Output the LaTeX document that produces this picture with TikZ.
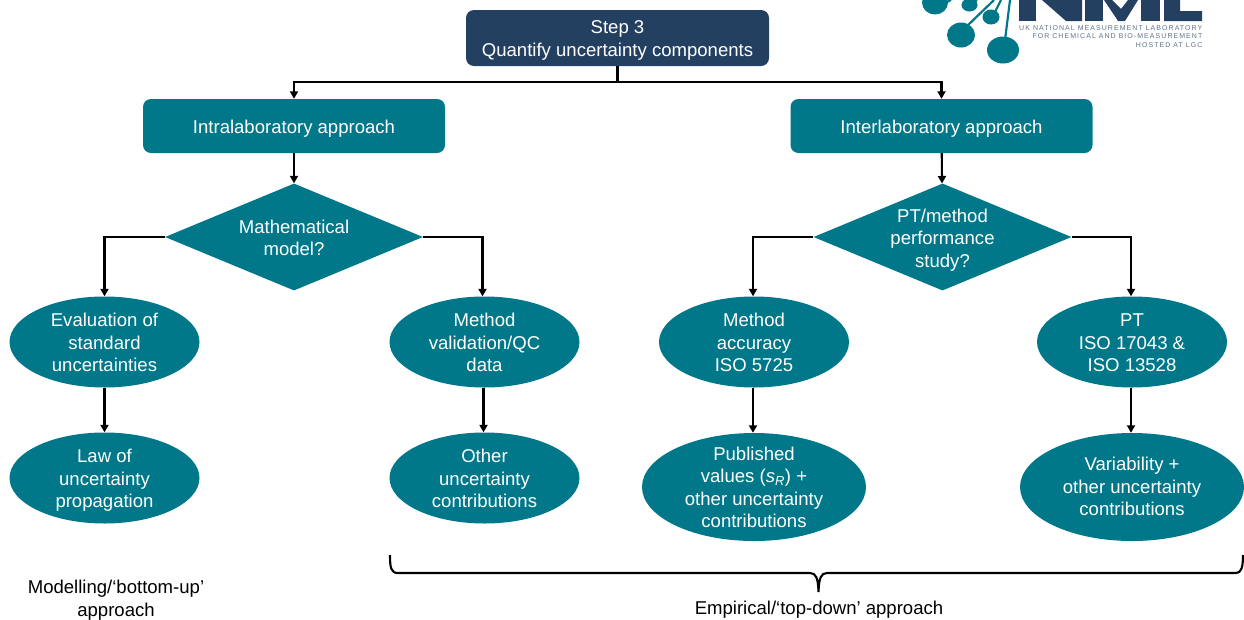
\documentclass[tikz,border=0pt]{standalone}
\usepackage{fontspec}
\setmainfont{Liberation Sans}
\usetikzlibrary{shapes.geometric,arrows.meta,calc}
\definecolor{teal1}{HTML}{00788A}
\definecolor{navy1}{HTML}{244061}
\definecolor{logogrey}{HTML}{5F7488}
\newcommand{\tl}[2][2.5pt]{\raisebox{-#1}[\height][\depth]{\begin{tabular}{@{}c@{}}#2\end{tabular}}}
\tikzset{
  x=1pt,y=-1pt,
  txt/.style={text=white,font=\fontsize{18.55}{22.5}\selectfont,inner sep=0pt},
  stepbox/.style={txt,fill=navy1,rounded corners=8pt,minimum width=303pt,minimum height=56pt},
  appbox/.style={txt,fill=teal1,rounded corners=8pt,minimum width=302pt,minimum height=54pt},
  deci/.style={txt,fill=teal1,diamond,aspect=2.4,minimum width=258pt,minimum height=107pt,inner sep=-12pt},
  oval/.style={txt,fill=teal1,ellipse,minimum width=190pt,minimum height=91pt,inner ysep=-12pt},
  bigoval/.style={txt,fill=teal1,ellipse,minimum width=224pt,minimum height=108pt,inner ysep=-20pt},
  conn/.style={draw=black,line width=2.1pt,-{Triangle[length=7.5pt,width=8pt]}},
  plain/.style={draw=black,line width=2.1pt},
  captext/.style={align=center,font=\fontsize{18.55}{22.5}\selectfont,inner sep=0pt},
  dot/.style={fill=teal1,draw=none},
  stem/.style={draw=teal1,line width=2.2pt},
  logotext/.style={text=logogrey,anchor=east,inner sep=0pt,font=\fontsize{7}{8}\selectfont\addfontfeatures{LetterSpace=15}}
}
\begin{document}
\begin{tikzpicture}
\useasboundingbox (0,0) rectangle (1244,619);
% logo
\begin{scope}
\clip (900,0) rectangle (1244,70);
\fill[navy1] (1019,0) rectangle (1036,21);
\fill[navy1] (1042,0) -- (1063,0) -- (1064,-2) -- (1082,-2) -- (1082,21) -- (1066,21) -- cycle;
\fill[navy1] (1085,0) rectangle (1103,21);
\fill[navy1] (1104,0) -- (1112,0) -- (1121,9) -- (1128,0) -- (1138,0) -- (1125,21) -- (1118,21) -- cycle;
\fill[navy1] (1141,0) rectangle (1160,21);
\fill[navy1] (1164,0) -- (1180,0) -- (1180,11) -- (1202,11) -- (1202,21) -- (1164,21) -- cycle;
\draw[stem] (1005,40) -- (1010,0);
\draw[stem] (966,27) -- (994,0);
\draw[stem] (995,12) -- (1001,0);
\draw[stem] (947,2) -- (951,0);
\draw[stem] (974,2) -- (977,0);
\fill[dot] (961,35) circle[x radius=14,y radius=12.5];
\fill[dot] (1003,50) circle[x radius=16,y radius=13.5];
\fill[dot] (991,17) circle[x radius=8.5,y radius=7.5];
\fill[dot] (935,2.5) circle[x radius=13,y radius=12];
\fill[dot] (969.5,5) circle[x radius=8,y radius=6.5];
\end{scope}
\node[logotext] (l1) at (1202.5,28) {UK NATIONAL MEASUREMENT LABORATORY};
\node[logotext] (l2) at (1202.5,36.5) {FOR CHEMICAL AND BIO-MEASUREMENT};
\node[logotext] (l3) at (1202.5,45.5) {HOSTED AT LGC};
% nodes
\node[stepbox] (step) at (617.5,38) {\tl{Step 3\\Quantify uncertainty components}};
\node[appbox] (intra) at (294,126) {\tl[3pt]{Intralaboratory approach}};
\node[appbox] (inter) at (941.5,126) {\tl[3pt]{Interlaboratory approach}};
\node[deci] (d1) at (294,237) {\tl[3pt]{Mathematical\\model?}};
\node[deci] (d2) at (942.5,237) {\tl[3pt]{PT/method\\performance\\study?}};
\node[oval] (e1) at (104.5,342) {\tl{Evaluation of\\standard\\uncertainties}};
\node[oval] (e2) at (484.5,342) {\tl{Method\\validation/QC\\data}};
\node[oval] (e3) at (754,342) {\tl{Method\\accuracy\\ISO 5725}};
\node[oval] (e4) at (1132,342) {\tl{PT\\ISO 17043 \&\\ISO 13528}};
\node[oval] (f1) at (104.5,478) {\tl{Law of\\uncertainty\\propagation}};
\node[oval] (f2) at (484.5,478) {\tl{Other\\uncertainty\\contributions}};
\node[bigoval] (f3) at (754,487) {\tl{Published\\values (\textit{s\textsubscript{R}}) +\\other uncertainty\\contributions}};
\node[bigoval] (f4) at (1132,487) {\tl[1.5pt]{Variability +\\other uncertainty\\contributions}};
% connectors
\coordinate (j) at (617.5,82);
\draw[plain,line width=3pt] (step.south) -- (j);
\draw[conn] (j) -| (intra.north);
\draw[conn] (j) -| (inter.north);
\draw[conn] (intra) -- (d1);
\draw[conn] (inter) -- (d2);
\draw[conn] (d1.west) -| (e1.north);
\draw[conn] (d1.east) -| ([xshift=-2pt]e2.north);
\draw[conn] (d2.west) -| ([xshift=-1pt]e3.north);
\draw[conn] (d2.east) -| ([xshift=-1pt]e4.north);
\draw[conn] (e1) -- (f1);
\draw[conn] ([xshift=-1pt]e2.south) -- ([xshift=-1pt]f2.north);
\draw[conn] ([xshift=-1pt]e3.south) -- ([xshift=-1pt]f3.north);
\draw[conn] ([xshift=-1pt]e4.south) -- ([xshift=-1pt]f4.north);
% brace
\draw[plain] (390,555) .. controls (390,568) and (391,573) .. (398,573) -- (810,573) .. controls (816,573) and (818,578) .. (818.5,592) .. controls (819,578) and (821,573) .. (827,573) -- (1236,573) .. controls (1241,573) and (1243,568) .. (1243,555);
% captions
\node[captext] (c1) at (116,600) {Modelling/‘bottom-up’\\approach};
\node[captext] (c2) at (819,609.5) {Empirical/‘top-down’ approach};
\end{tikzpicture}
\end{document}
